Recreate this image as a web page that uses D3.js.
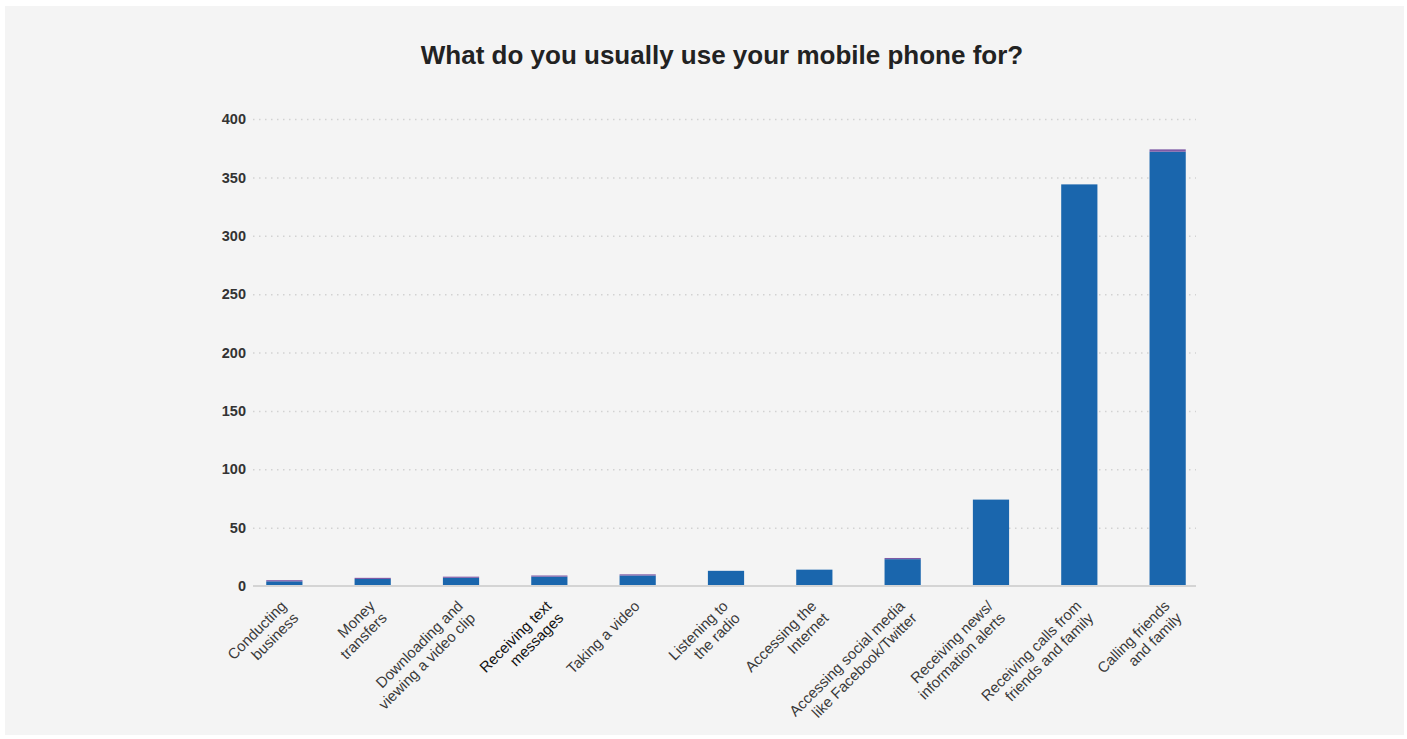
<!DOCTYPE html>
<html>
<head>
<meta charset="utf-8">
<script src="https://cdn.jsdelivr.net/npm/d3@7"></script>
<style>
  html, body { margin: 0; padding: 0; background: #ffffff; }
  svg { display: block; font-family: "Liberation Sans", Arial, Helvetica, sans-serif; }
</style>
</head>
<body>
<svg id="chart" width="1407" height="739"></svg>
<script>
// Survey answers, one entry per usage category (lines split with \n)
const categories = [
  "Conducting\nbusiness",
  "Money\ntransfers",
  "Downloading and\nviewing a video clip",
  "Receiving text\nmessages",
  "Taking a video",
  "Listening to\nthe radio",
  "Accessing the\nInternet",
  "Accessing social media\nlike Facebook/Twitter",
  "Receiving news/\ninformation alerts",
  "Receiving calls from\nfriends and family",
  "Calling friends\nand family"
];
// Main response counts (blue) and the small stacked remainder (purple)
const primaryCounts   = [4, 6, 7, 8, 9, 13, 14, 23, 74, 344, 372];
const secondaryCounts = [1, 1, 1, 1, 1, 0, 0, 1, 0, 0, 2];
const yTicks = [0, 50, 100, 150, 200, 250, 300, 350, 400];
const chartTitle = "What do you usually use your mobile phone for?";

const svg = d3.select("#chart");

// panel background
svg.append("rect")
  .attr("x", 5).attr("y", 6).attr("width", 1399).attr("height", 729)
  .attr("fill", "#f4f4f4");

const plotLeft = 253, plotRight = 1196, plotTop = 119, plotBottom = 586;

const x = d3.scaleBand()
  .domain(categories)
  .range([plotLeft, plotRight + 3])
  .paddingInner(0.59)
  .paddingOuter(0.15);

const y = d3.scaleLinear().domain([0, 400]).range([plotBottom, plotTop]);

// title
svg.append("text")
  .attr("x", 722).attr("y", 64)
  .attr("text-anchor", "middle")
  .attr("font-size", 26).attr("font-weight", "bold")
  .attr("fill", "#222222")
  .text(chartTitle);

// gridlines + y labels
const yAxis = d3.axisLeft(y).tickValues(yTicks).tickSize(0).tickPadding(7);
const yg = svg.append("g").attr("transform", `translate(${plotLeft},0)`).call(yAxis);
yg.select(".domain").remove();
yg.selectAll(".tick text")
  .attr("font-size", 14.5).attr("font-weight", "bold")
  .attr("fill", "#333333")
  .attr("font-family", "\"Liberation Sans\", Arial, sans-serif");
yg.selectAll(".tick").filter(d => d !== 0)
  .append("line")
  .attr("x1", 0).attr("x2", plotRight - plotLeft)
  .attr("stroke", "#d2d2d2").attr("stroke-width", 1.5)
  .attr("stroke-dasharray", "1.5,4.5");

// stacked bars
const rows = categories.map((c, i) => ({ cat: c, primary: primaryCounts[i], secondary: secondaryCounts[i] }));
const stacked = d3.stack().keys(["primary", "secondary"])(rows);
const colors = { primary: "#1a66ad", secondary: "#7e5aa6" };

svg.append("g").selectAll("g")
  .data(stacked)
  .join("g")
  .attr("fill", d => colors[d.key])
  .selectAll("rect")
  .data(d => d.filter(s => s[1] > s[0]))
  .join("rect")
  .attr("x", d => x(d.data.cat))
  .attr("width", x.bandwidth())
  .attr("y", d => y(d[1]))
  .attr("height", d => y(d[0]) - y(d[1]));

// baseline axis
const xAxis = d3.axisBottom(x).tickSize(0).tickFormat("");
const xg = svg.append("g").attr("transform", `translate(0,${plotBottom})`).call(xAxis);
xg.select(".domain").attr("stroke", "#d4d4d4").attr("stroke-width", 2).attr("d", `M${plotLeft},0H${plotRight}`);

// rotated category labels
const labels = svg.append("g");
categories.forEach((c, i) => {
  const cx = x(c) + x.bandwidth() / 2;
  const t = labels.append("text")
    .attr("transform", `translate(${cx + 3},${plotBottom + 21}) rotate(-45)`)
    .attr("text-anchor", "end")
    .attr("font-size", 15)
    .attr("fill", i === 3 ? "#111111" : "#3a3a3a");
  c.split("\n").forEach((line, j) => {
    t.append("tspan").attr("x", 0).attr("dy", j === 0 ? 0 : 17).text(line);
  });
});
</script>
</body>
</html>
